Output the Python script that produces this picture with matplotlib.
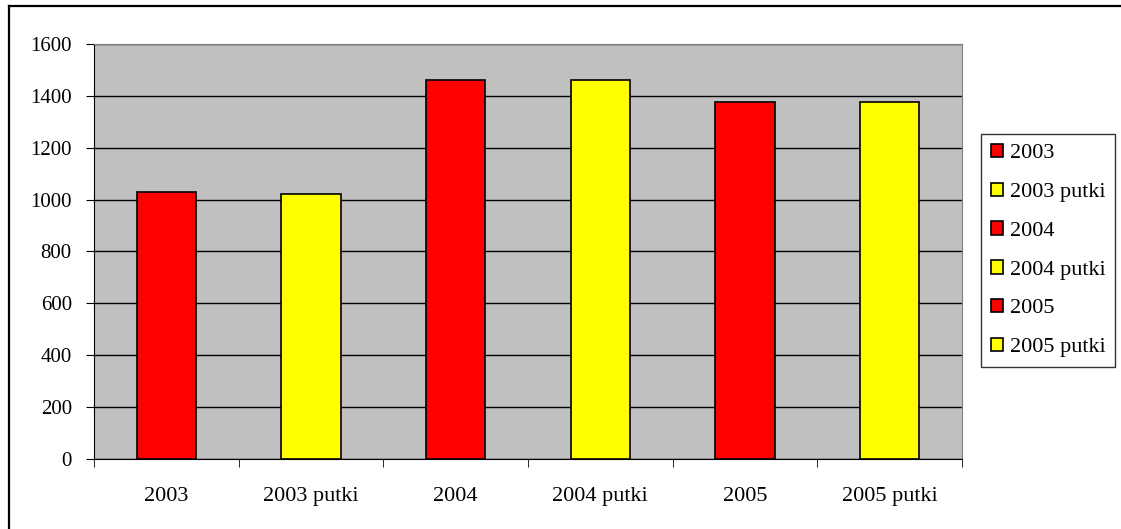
import matplotlib.pyplot as plt
from matplotlib.lines import Line2D
import numpy as np

plt.rcParams['font.family'] = ['Liberation Serif', 'DejaVu Serif']

categories = ['2003', '2003 putki', '2004', '2004 putki', '2005', '2005 putki']
values = [1029, 1023, 1462, 1461, 1377, 1377]
colors = ['#FF0000', '#FFFF00', '#FF0000', '#FFFF00', '#FF0000', '#FFFF00']
yticks = [0, 200, 400, 600, 800, 1000, 1200, 1400, 1600]

fig = plt.figure(figsize=(11.21, 5.29), dpi=100)
# chart frame: only the top and left edges fall inside the image
W, H = 1121, 529
fig.lines.append(Line2D([9 / W, 1.0], [1 - 6 / H, 1 - 6 / H],
                        transform=fig.transFigure, color='black', linewidth=1.6))
fig.lines.append(Line2D([9 / W, 9 / W], [0.0, 1 - 6 / H],
                        transform=fig.transFigure, color='black', linewidth=1.6))

ax = fig.add_axes([94 / W, 70 / H, 868 / W, 415 / H])
ax.set_facecolor('#C0C0C0')

x = np.arange(len(categories))
bars = ax.bar(x, values, width=0.41, color=colors, edgecolor='black',
              linewidth=1.2, zorder=3)

ax.set_xlim(-0.5, len(categories) - 0.5)
ax.set_ylim(0, 1600)
ax.set_yticks(yticks)
ax.set_yticklabels([str(v) for v in yticks], fontsize=15)
ax.yaxis.grid(True, color='black', linewidth=1.0, zorder=1)
ax.set_axisbelow(True)

# category labels between the boundary ticks
ax.set_xticks(x)
ax.set_xticklabels(categories, fontsize=16)
ax.tick_params(axis='x', length=0, pad=20.5)
ax.set_xticks(np.arange(-0.5, len(categories)), minor=True)
ax.tick_params(axis='x', which='minor', length=6, direction='out', color='black')
ax.tick_params(axis='y', length=6, direction='out', color='black', pad=10)

for side in ('top', 'right'):
    ax.spines[side].set_color('#808080')
for side in ('left', 'bottom'):
    ax.spines[side].set_color('black')

leg = ax.legend(bars, categories, loc='upper left',
                bbox_to_anchor=(981 / W, 395 / H),
                bbox_transform=fig.transFigure,
                fontsize=16, frameon=True, fancybox=False, borderpad=0.44,
                handlelength=0.55, handleheight=0.55, handletextpad=0.3,
                labelspacing=0.865, borderaxespad=0)
leg.get_frame().set_edgecolor('black')
leg.get_frame().set_linewidth(1.0)

fig.savefig('out.png', dpi=100)
